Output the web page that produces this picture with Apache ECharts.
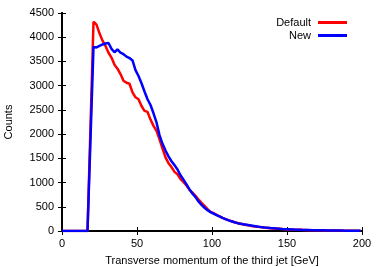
<!DOCTYPE html>
<html><head><meta charset="utf-8">
<script src="https://cdn.jsdelivr.net/npm/echarts@6/dist/echarts.min.js"></script>
<style>html,body{margin:0;padding:0;background:#fff}#c{width:381px;height:267px}</style>
</head><body><div id="c"></div>
<script>
var xs = [0,17,21,23,25,27,29,31,33,35,37,39,41,43,45,47,49,51,53,55,57,59,61,63,65,67,69,71,73,75,77,79,81,83,85,87,89,91,93,95,97,99,101,103,105,107,109,111,113,115,117,119,121,123,125,127,129,131,133,135,137,139,141,143,145,147,149,151,153,155,157,159,161,163,165,167,169,171,173,175,177,179,181,183,185,187,189,191,193,195,197,199];
var defaultVals = [0,0,4320,4260,4080,3930,3820,3680,3580,3430,3350,3240,3100,3060,3040,2860,2760,2720,2580,2480,2460,2300,2170,2070,1890,1700,1520,1400,1320,1220,1170,1070,1010,940,850,790,725,650,580,520,450,395,370,335,300,270,245,225,200,180,165,150,135,125,112,100,92,85,78,70,64,58,53,48,44,40,37,34,31,28,26,24,22,20,18,17,15,14,13,12,11,10,9,8,8,7,6,6,5,5,4,4];
var newVals = [0,0,3800,3790,3820,3850,3870,3880,3760,3690,3750,3680,3650,3600,3570,3520,3320,3200,3050,2880,2720,2600,2430,2240,1980,1800,1660,1540,1440,1360,1270,1150,1060,960,860,770,700,610,540,480,430,390,360,330,300,270,245,220,200,180,162,150,138,128,118,108,98,88,80,72,66,60,55,50,45,41,38,35,32,29,27,25,23,21,19,17,16,15,14,13,12,11,10,9,8,8,7,6,6,5,5,4];
var seriesNames = ['Default','New'];
var xTicks = [0,50,100,150,200];
var yTicks = [0,500,1000,1500,2000,2500,3000,3500,4000,4500];

function pairs(v){ return xs.map(function(x,i){ return [x, v[i]]; }); }
var font = 'Liberation Sans, Arial, sans-serif';
var chart = echarts.init(document.getElementById('c'), null, {renderer:'canvas'});
var line = {show:true, lineStyle:{color:'#000', width:2}};
var tick = {show:true, inside:true, length:4, lineStyle:{color:'#000', width:1}};
chart.setOption({
  animation:false,
  backgroundColor:'#fff',
  grid:{left:62, right:19, top:13, bottom:36, containLabel:false, outerBoundsMode:'none'},
  legend:[
    {data:['Default'], right:29, top:12, orient:'vertical', align:'right', icon:'rect', itemWidth:29, itemHeight:3, itemGap:2,
     textStyle:{fontFamily:font, fontSize:11, color:'#000', padding:[0,2,0,0]}},
    {data:['New'], right:29, top:25, orient:'vertical', align:'right', icon:'rect', itemWidth:29, itemHeight:3, itemGap:2,
     textStyle:{fontFamily:font, fontSize:11, color:'#000', padding:[0,2,0,0]}}
  ],
  xAxis:[
    {type:'value', min:xTicks[0], max:xTicks[xTicks.length-1], interval:50, axisLine:line, axisTick:tick, splitLine:{show:false},
     axisLabel:{fontFamily:font, fontSize:11, color:'#000', margin:7, formatter:function(v){return String(v);}},
     name:'Transverse momentum of the third jet [GeV]', nameLocation:'middle', nameGap:24,
     nameTextStyle:{fontFamily:font, fontSize:11, color:'#000'}},
    {type:'value', position:'top', min:0, max:200, interval:50, axisLine:line, axisTick:tick, axisLabel:{show:false}, splitLine:{show:false}}
  ],
  yAxis:[
    {type:'value', min:yTicks[0], max:yTicks[yTicks.length-1], interval:500, axisLine:line, axisTick:tick, splitLine:{show:false},
     axisLabel:{fontFamily:font, fontSize:11, color:'#000', margin:8, formatter:function(v){return String(v);}},
     name:'Counts', nameLocation:'middle', nameGap:48, nameRotate:90,
     nameTextStyle:{fontFamily:font, fontSize:11, color:'#000'}},
    {type:'value', position:'right', min:0, max:4500, interval:500, axisLine:line, axisTick:tick, axisLabel:{show:false}, splitLine:{show:false}}
  ],
  series:[
    {name:seriesNames[0], type:'line', data:pairs(defaultVals), showSymbol:false, symbol:'none', color:'#ff0000', lineStyle:{color:'#ff0000', width:2.5}},
    {name:seriesNames[1], type:'line', data:pairs(newVals), showSymbol:false, symbol:'none', color:'#0000ff', lineStyle:{color:'#0000ff', width:2.5}}
  ]
});
</script></body></html>
